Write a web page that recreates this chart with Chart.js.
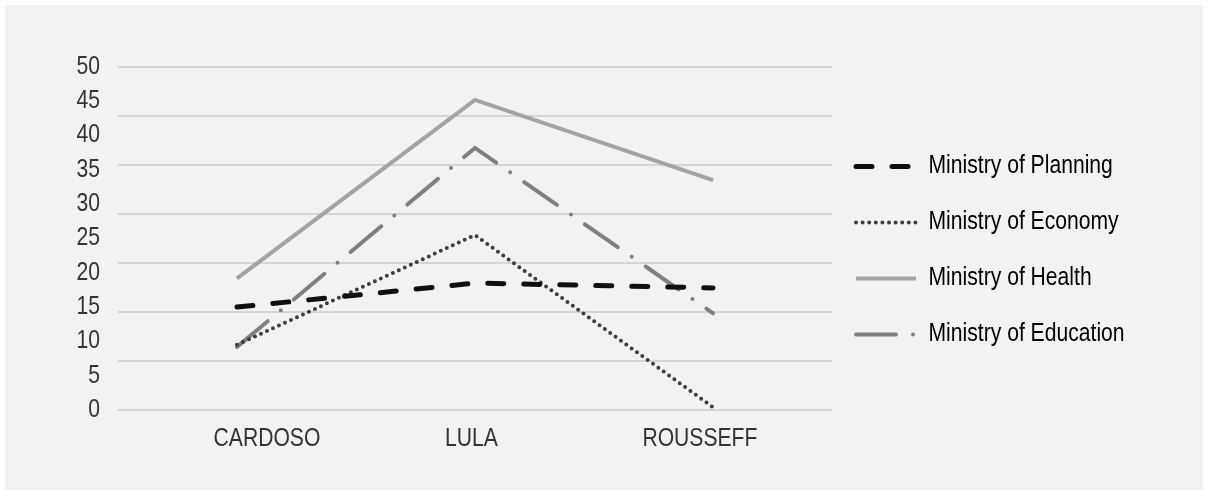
<!DOCTYPE html>
<html lang="en">
  <head>
    <meta charset="UTF-8" />
    <title>Ministries by government</title>
    <script src="https://cdn.jsdelivr.net/npm/chart.js@4"></script>
    <style>
      html, body { margin: 0; background: #fff; }
      #wrap { position: absolute; left: 5px; top: 5px; width: 1198px; height: 485px; background: #f1f2f4; }
    </style>
  </head>
  <body>
    <div id="wrap"><canvas id="chart"></canvas></div>
    <script>
      const presidents = ['CARDOSO', 'LULA', 'ROUSSEFF']
      const planning = [15, 18.5, 17.8]
      const economy = [9.5, 25.5, 0.4]
      const health = [19.2, 45.2, 33.5]
      const education = [9.2, 38.2, 14.1]
      const yTicks = [0, 5, 10, 15, 20, 25, 30, 35, 40, 45, 50]
      const gridSteps = 7 // the original's gridlines don't line up with its labels
      const labelNudge = [0.126, -0.015, -0.055] // category labels sit a little off-centre in the original

      Chart.defaults.font.family = "'Liberation Sans', Arial, sans-serif"
      Chart.defaults.font.size = 25
      Chart.defaults.color = '#333'

      // the original uses a condensed face; squeeze canvas text horizontally
      const SQUEEZE = 0.845
      const canvas = document.getElementById('chart')
      const g = canvas.getContext('2d')
      const rawFill = g.fillText.bind(g)
      const rawMeasure = g.measureText.bind(g)
      g.fillText = function (text, x, y) {
        g.save()
        g.translate(x, y)
        g.scale(SQUEEZE, 1)
        rawFill(text, 0, 0)
        g.restore()
      }
      g.measureText = function (text) {
        const m = rawMeasure(text)
        return {
          width: m.width * SQUEEZE,
          actualBoundingBoxAscent: m.actualBoundingBoxAscent,
          actualBoundingBoxDescent: m.actualBoundingBoxDescent,
          actualBoundingBoxLeft: m.actualBoundingBoxLeft * SQUEEZE,
          actualBoundingBoxRight: m.actualBoundingBoxRight * SQUEEZE,
        }
      }

      const isGrid = (v) => {
        const k = v * gridSteps / 50
        return Math.abs(k - Math.round(k)) < 1e-6
      }

      const data = {
        labels: presidents,
        datasets: [
          { label: 'Ministry of Planning', data: planning, borderColor: '#0f0f0f', borderWidth: 5, borderDash: [16, 20], borderCapStyle: 'round' },
          { label: 'Ministry of Economy', data: economy, borderColor: '#3e3e3e', borderWidth: 4, borderDash: [0, 6.6], borderCapStyle: 'round' },
          { label: 'Ministry of Health', data: health, borderColor: '#a2a3a5', borderWidth: 4 },
          { label: 'Ministry of Education', data: education, borderColor: '#7f8082', borderWidth: 4, borderDash: [40, 17, 0, 17], borderCapStyle: 'round' },
        ],
      }

      // legend sits in a fixed-width column on the right, like the original
      const legendColumn = {
        id: 'legendColumn',
        beforeUpdate(chart) {
          const lg = chart.legend
          if (lg && !lg._fixed) {
            const fit = lg.fit.bind(lg)
            lg.fit = function () { fit(); this.width = 371 }
            lg._fixed = true
          }
        },
        afterLayout(chart) {
          const lg = chart.legend
          lg.left = chart.chartArea.right - 7
          lg.top -= 13
          lg.bottom -= 13
        },
      }

      const config = {
        type: 'line',
        data: data,
        plugins: [legendColumn],
        options: {
          responsive: true,
          maintainAspectRatio: false,
          animation: false,
          layout: { padding: { top: 62, bottom: 30, left: 0, right: 0 } },
          elements: { point: { radius: 0 }, line: { tension: 0, fill: false } },
          plugins: {
            legend: {
              position: 'right',
              labels: {
                usePointStyle: true,
                pointStyle: 'line',
                pointStyleWidth: 60,
                boxHeight: 25,
                padding: 31,
                color: '#333',
                generateLabels: (chart) => chart.data.datasets.map((ds, i) => ({
                  text: ds.label,
                  datasetIndex: i,
                  strokeStyle: ds.borderColor,
                  fillStyle: ds.borderColor,
                  lineWidth: ds.borderWidth,
                  lineDash: ds.borderDash || [],
                  lineCap: ds.borderCapStyle || 'butt',
                  pointStyle: 'line',
                  hidden: false,
                })),
              },
            },
            tooltip: { enabled: false },
          },
          scales: {
            x: {
              offset: true,
              display: false,
            },
            // visible category labels, on a linear twin of the category axis
            xLabels: {
              type: 'linear',
              position: 'bottom',
              min: -0.5,
              max: presidents.length - 0.5,
              afterBuildTicks: (axis) => {
                axis.ticks = presidents.map((p, i) => ({ value: i + labelNudge[i] }))
              },
              grid: { display: false },
              border: { display: false },
              ticks: {
                color: '#333',
                padding: 6,
                autoSkip: false,
                maxRotation: 0,
                callback: (v, i) => presidents[i],
              },
            },
            y: {
              min: 0,
              max: 50,
              afterBuildTicks: (axis) => {
                const vals = yTicks.slice()
                for (let k = 0; k <= gridSteps; k++) vals.push(k * 50 / gridSteps)
                const uniq = [...new Set(vals.map(v => +v.toFixed(6)))].sort((a, b) => a - b)
                axis.ticks = uniq.map(v => ({ value: v }))
              },
              afterFit: (axis) => { axis.width = 113 },
              grid: {
                color: (ctx) => (ctx.tick && isGrid(ctx.tick.value) ? '#d4d5d7' : 'rgba(0,0,0,0)'),
                lineWidth: 2,
                drawTicks: false,
              },
              border: { display: false },
              ticks: {
                autoSkip: false,
                color: '#333',
                padding: 18,
                callback: (v) => (yTicks.includes(v) ? String(v) : ''),
              },
            },
          },
        },
      }
      const myChart = new Chart(canvas, config)
    </script>
  </body>
</html>
